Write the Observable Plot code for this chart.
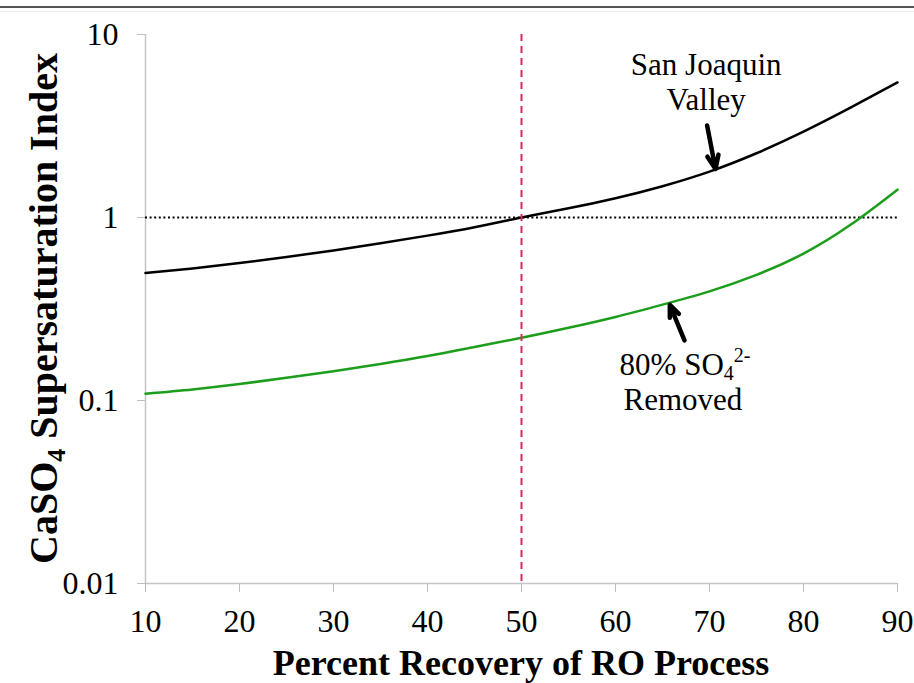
<!DOCTYPE html>
<html>
<head>
<meta charset="utf-8">
<script src="https://cdn.jsdelivr.net/npm/d3@7"></script>
<script src="https://cdn.jsdelivr.net/npm/@observablehq/plot@0.6"></script>
<style>
  html, body { margin: 0; padding: 0; background: white; }
  #wrap { position: relative; width: 914px; height: 683px; overflow: hidden; }
  #topline { position: absolute; left: 0; top: 6px; width: 914px; height: 2px; background: #555; }
  #topline2 { position: absolute; left: 0; top: 11px; width: 914px; height: 1px; background: #ececec; }
  svg { position: absolute; left: 0; top: 0; }
</style>
</head>
<body>
<div id="wrap"><div id="topline"></div><div id="topline2"></div></div>
<script>
// ---- data ----
const recovery   = [10, 15, 20, 25, 30, 35, 40, 45, 50, 55, 60, 65, 70, 75, 80, 85, 90];
const sanJoaquin = [0.497, 0.527, 0.564, 0.608, 0.661, 0.723, 0.796, 0.885, 1.0, 1.122, 1.274, 1.483, 1.782, 2.244, 2.944, 3.981, 5.47];
const so4Removed = [0.109, 0.115, 0.123, 0.133, 0.1445, 0.1585, 0.175, 0.196, 0.220, 0.2495, 0.286, 0.334, 0.395, 0.486, 0.635, 0.912, 1.42];
const xTicks = [10, 20, 30, 40, 50, 60, 70, 80, 90];
const yTicks = [0.01, 0.1, 1, 10];
const yTickLabels = ["0.01", "0.1", "1", "10"];
const designRecovery = 50;
const saturationLine = 1;

// annotation anchors (data coordinates)
const labelSJ = [{x: 69.7, y: 5.97, t: "San Joaquin"}, {x: 69.7, y: 3.84, t: "Valley"}];
const labelSO = [{x: 67.45, y: 0.137}, {x: 67.23, y: 0.0882, t: "Removed"}];
const arrows = [
  {x1: 69.75, y1: 3.18, x2: 70.64, y2: 1.84},
  {x1: 67.34, y1: 0.213, x2: 65.78, y2: 0.333}
];

const tableSJ = recovery.map((r, i) => ({r, v: sanJoaquin[i]}));
const tableSO = recovery.map((r, i) => ({r, v: so4Removed[i]}));

const FONT = "'Liberation Serif', 'Times New Roman', serif";

const plot = Plot.plot({
  width: 914,
  height: 683,
  marginLeft: 145,
  marginRight: 17,
  marginTop: 34,
  marginBottom: 100,
  style: {fontFamily: FONT, background: "transparent", overflow: "visible"},
  x: {domain: [10, 90]},
  y: {type: "log", domain: [0.01, 10]},
  marks: [
    Plot.ruleX([10], {stroke: "#c4c4c4", strokeWidth: 1.5}),
    Plot.ruleY([0.01], {stroke: "#c4c4c4", strokeWidth: 1.5}),
    Plot.axisX(xTicks, {tickSize: 9, tickPadding: 17, fontSize: 32, stroke: "#bdbdbd", fill: "black", label: null}),
    Plot.axisY(yTicks, {tickSize: 8, tickPadding: 19, fontSize: 32, stroke: "#bdbdbd", fill: "black", label: null,
      tickFormat: d => yTickLabels[yTicks.indexOf(d)]}),
    Plot.ruleY([saturationLine], {stroke: "black", strokeWidth: 2, strokeDasharray: "2 2.6"}),
    Plot.line(tableSJ, {x: "r", y: "v", curve: "natural", stroke: "black", strokeWidth: 2.5}),
    Plot.line(tableSO, {x: "r", y: "v", curve: "natural", stroke: "#1c9e1c", strokeWidth: 2.5}),
    Plot.ruleX([designRecovery], {stroke: "#dc2a5c", strokeWidth: 2, strokeDasharray: "7 5"}),
    Plot.arrow(arrows, {x1: "x1", y1: "y1", x2: "x2", y2: "y2", stroke: "black", strokeWidth: 4.5, headLength: 11, headAngle: 45})
  ]
});

document.getElementById("wrap").appendChild(plot);

const svg = d3.select(plot);
const sx = plot.scale("x"), sy = plot.scale("y");

// y-axis title
const yt = svg.append("text")
  .attr("transform", `translate(57,${(sy.apply(10) + sy.apply(0.01)) / 2}) rotate(-90)`)
  .attr("text-anchor", "middle")
  .attr("font-family", FONT).attr("font-weight", "bold").attr("font-size", 40).attr("fill", "black");
yt.append("tspan").text("CaSO");
yt.append("tspan").attr("font-size", 26).attr("dy", 8).text("4");
yt.append("tspan").attr("dy", -8).text(" Supersaturation Index");

// x-axis title
svg.append("text")
  .attr("x", (sx.apply(10) + sx.apply(90)) / 2).attr("y", 675)
  .attr("text-anchor", "middle")
  .attr("font-family", FONT).attr("font-weight", "bold").attr("font-size", 36).attr("fill", "black")
  .text("Percent Recovery of RO Process");

// annotations
labelSJ.forEach(d => {
  svg.append("text").attr("x", sx.apply(d.x)).attr("y", sy.apply(d.y))
    .attr("text-anchor", "middle").attr("font-family", FONT).attr("font-size", 31).attr("fill", "black")
    .text(d.t);
});
const so = svg.append("text").attr("x", sx.apply(labelSO[0].x)).attr("y", sy.apply(labelSO[0].y))
  .attr("text-anchor", "middle").attr("font-family", FONT).attr("font-size", 31).attr("fill", "black");
so.append("tspan").text("80% SO");
so.append("tspan").attr("font-size", 20).attr("dy", 5).text("4");
so.append("tspan").attr("font-size", 20).attr("dy", -18).text("2-");
svg.append("text").attr("x", sx.apply(labelSO[1].x)).attr("y", sy.apply(labelSO[1].y))
  .attr("text-anchor", "middle").attr("font-family", FONT).attr("font-size", 31).attr("fill", "black")
  .text(labelSO[1].t);
</script>
</body>
</html>
